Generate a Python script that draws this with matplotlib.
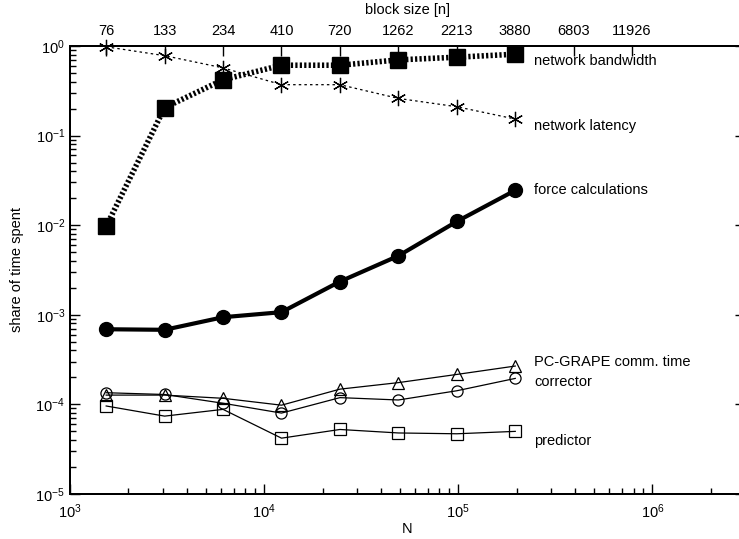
import numpy as np
import matplotlib
matplotlib.use("Agg")
import matplotlib.pyplot as plt
from matplotlib.ticker import LogLocator, NullFormatter, NullLocator

plt.rcParams['font.family'] = ['Liberation Sans', 'DejaVu Sans']
plt.rcParams['mathtext.fontset'] = 'custom'
plt.rcParams['mathtext.rm'] = 'Liberation Sans'
plt.rcParams['mathtext.it'] = 'Liberation Sans'
plt.rcParams['font.size'] = 10.5

# ------------------ data ------------------
N = [1536, 3072, 6144, 12288, 24576, 49152, 98304, 196608]

bandwidth = [0.0097, 0.205, 0.42, 0.61, 0.61, 0.70, 0.75, 0.81]
latency = [0.98, 0.78, 0.57, 0.37, 0.37, 0.26, 0.21, 0.153]
force = [6.9e-4, 6.8e-4, 9.4e-4, 1.07e-3, 2.35e-3, 4.55e-3, 0.011, 0.0245]
pcgrape = [1.27e-4, 1.27e-4, 1.17e-4, 9.8e-5, 1.48e-4, 1.75e-4, 2.16e-4, 2.68e-4]
corrector = [1.35e-4, 1.29e-4, 1.03e-4, 8.0e-5, 1.19e-4, 1.12e-4, 1.42e-4, 1.95e-4]
predictor = [9.6e-5, 7.4e-5, 8.8e-5, 4.2e-5, 5.25e-5, 4.8e-5, 4.7e-5, 5.0e-5]

# top axis: block size for each N
top_N = [1536 * 2**k for k in range(10)]
block_labels = ['76', '133', '234', '410', '720', '1262', '2213', '3880', '6803', '11926']

# curve labels (text, y position)
labels = [('network bandwidth', 0.68),
          ('network latency', 0.128),
          ('force calculations', 0.0247),
          ('PC-GRAPE comm. time', 2.97e-4),
          ('corrector', 1.78e-4),
          ('predictor', 3.9e-5)]
label_x = 2.47e5

# ------------------ figure ------------------
fig = plt.figure(figsize=(7.39, 5.39), dpi=100)
ax = fig.add_axes([70/739, 45/539, 675/739, 448/539])

ax.plot(N, bandwidth, color='black', lw=4, linestyle=(0, (0.4, 0.4)),
        marker='s', ms=11.5, mfc='black', mec='black', clip_on=False)
ax.plot(N, latency, color='black', lw=0.9, linestyle=(0, (2, 2.5)),
        marker=(6, 2, 0), ms=11, mew=0.9, clip_on=False)
ax.plot(N, force, color='black', lw=3, marker='o', ms=10, mfc='black')
ax.plot(N, pcgrape, color='black', lw=0.9, marker='^', ms=8, mfc='none', mew=0.9)
ax.plot(N, corrector, color='black', lw=0.9, marker='o', ms=8, mfc='none', mew=0.9)
ax.plot(N, predictor, color='black', lw=0.9, marker='s', ms=8, mfc='none', mew=0.9)

for txt, yv in labels:
    ax.text(label_x, yv, txt, va='center', ha='left')

ax.set_xscale('log')
ax.set_yscale('log')
ax.set_xlim(1e3, 3e6)
ax.set_ylim(1e-5, 1)

ax.xaxis.set_major_locator(LogLocator(base=10, numticks=10))
ax.xaxis.set_minor_locator(LogLocator(base=10, subs=np.arange(2, 10), numticks=10))
ax.yaxis.set_major_locator(LogLocator(base=10, numticks=10))
ax.yaxis.set_minor_locator(LogLocator(base=10, subs=np.arange(2, 10), numticks=10))
ax.xaxis.set_minor_formatter(NullFormatter())
ax.yaxis.set_minor_formatter(NullFormatter())

ax.tick_params(which='major', direction='in', length=7, width=1, right=True, top=False)
ax.tick_params(which='minor', direction='in', length=4, width=1, right=True, top=False)
ax.tick_params(axis='x', pad=6)
for sp in ax.spines.values():
    sp.set_linewidth(1.4)

ax.set_xlabel('N', labelpad=1)
ax.set_ylabel('share of time spent', labelpad=8)

# top axis with block size
ax2 = ax.twiny()
ax2.set_xscale('log')
ax2.set_xlim(ax.get_xlim())
ax2.set_xticks(top_N)
ax2.set_xticklabels(block_labels)
ax2.xaxis.set_minor_locator(NullLocator())
ax2.tick_params(which='major', direction='in', length=7, width=1, pad=6)
ax2.set_xlabel('block size [n]', labelpad=7)
for sp in ax2.spines.values():
    sp.set_linewidth(1.4)

fig.savefig('out.png', dpi=100)
